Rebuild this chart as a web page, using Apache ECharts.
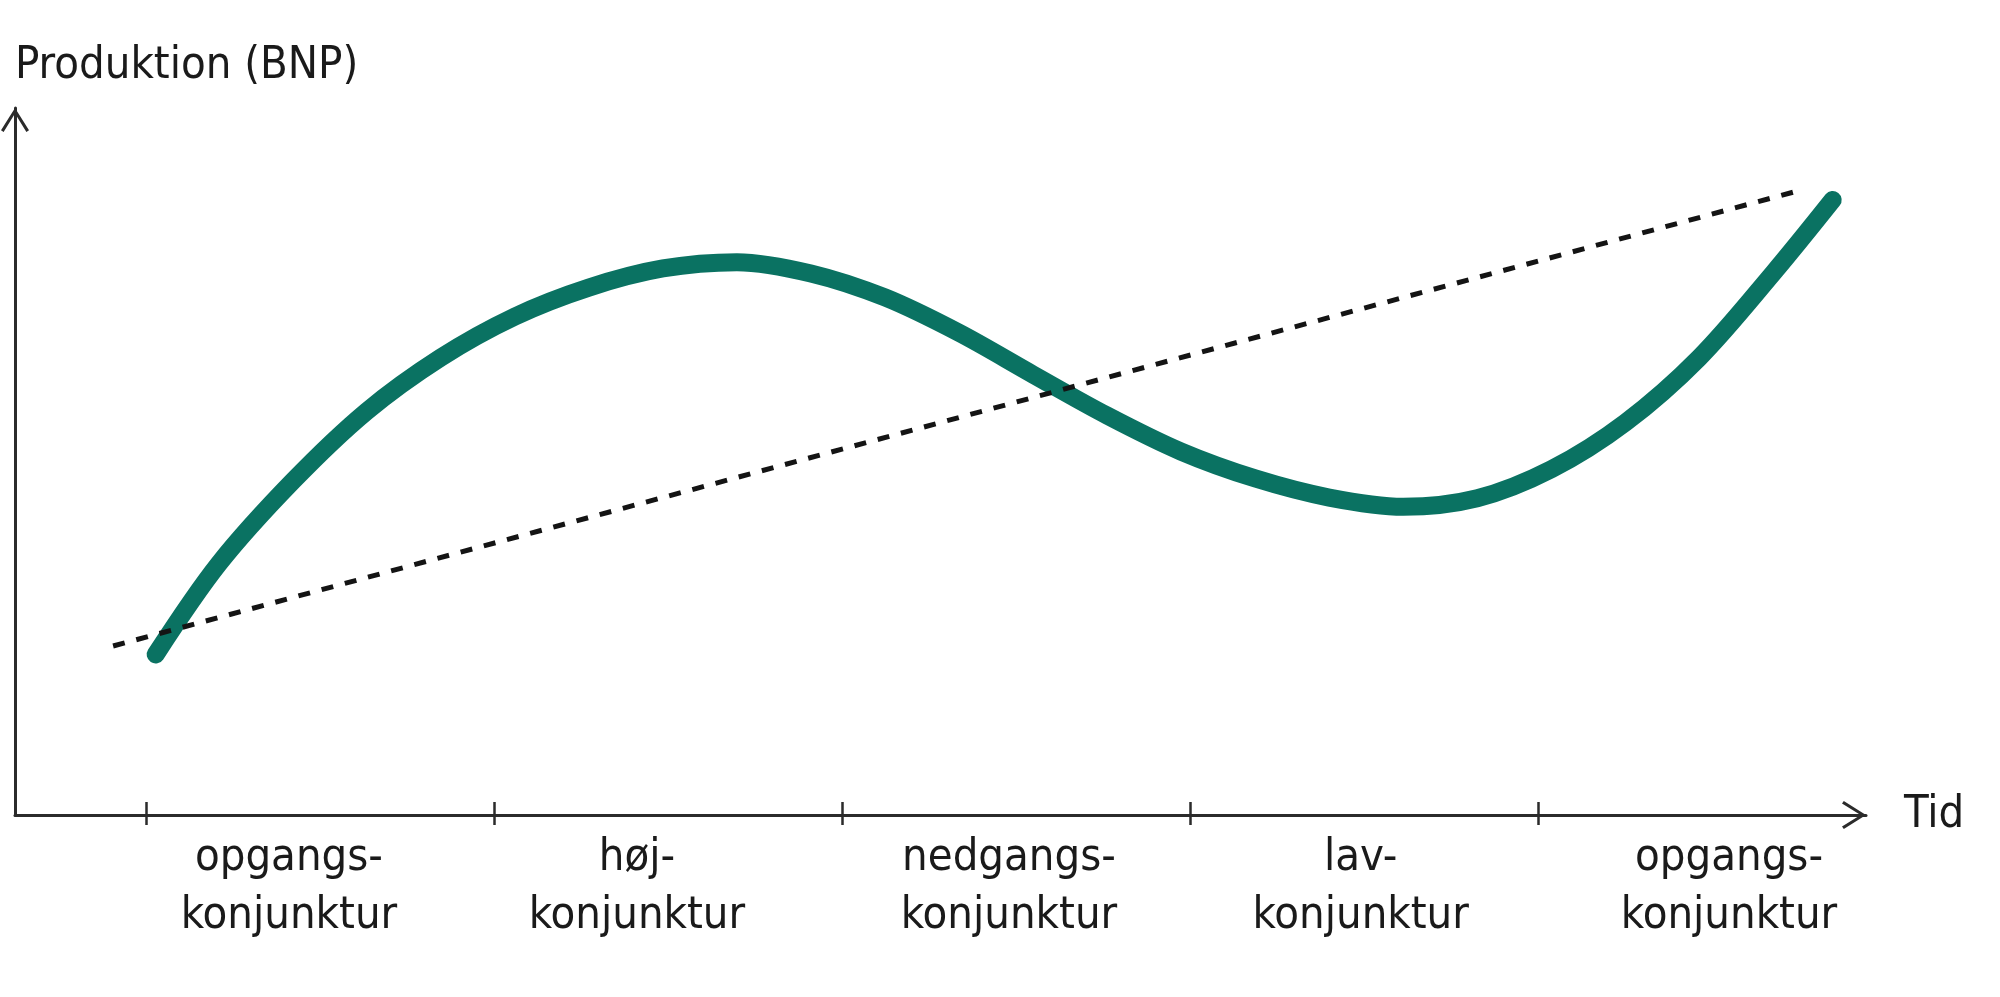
<!DOCTYPE html>
<html>
<head>
<meta charset="utf-8">
<title>Konjunkturcyklus</title>
<script src="https://cdn.jsdelivr.net/npm/echarts@6/dist/echarts.min.js"></script>
<style>
  html, body { margin: 0; padding: 0; background: #fff; }
  #chart { width: 2000px; height: 997px; }
</style>
</head>
<body>
<div id="chart"></div>
<script>
// both axes run 0..100 from the origin to the arrow tip
const cycleX = [7.6, 11, 15, 19, 23, 27, 31, 35, 39, 43, 47, 51, 55, 59, 63, 67, 71, 75, 79, 83, 87, 91, 95, 98.2];
const cycleY = [22.7, 35.5, 47.2, 57.1, 64.7, 70.5, 74.6, 77.3, 78.2, 76.6, 73.2, 68.2, 62.3, 56.5, 51.4, 47.6, 44.9, 43.6, 44.8, 48.9, 55.5, 64.7, 76.7, 87.0];
const trendX = [5.3, 96.5];
const trendY = [23.9, 88.4];
const phaseTicks = [7.1, 25.9, 44.7, 63.5, 82.3];
const phaseLabelPos = [14.8, 33.6, 53.7, 72.7, 92.6];
const phaseLabels = ['opgangs-\nkonjunktur', 'høj-\nkonjunktur', 'nedgangs-\nkonjunktur', 'lav-\nkonjunktur', 'opgangs-\nkonjunktur'];

const FONT = '"Liberation Sans Narrow", "DejaVu Sans Condensed", "Open Sans", sans-serif';
const AXIS_COLOR = '#2b2b2b';
const TEXT_COLOR = '#1a1a1a';
// open chevron, pointing up (echarts rotates it along the axis)
const CHEVRON = 'path://M14 0 L28 22.2 L25.4 24 L14 5.4 L2.6 24 L0 22.2 Z';

const chart = echarts.init(document.getElementById('chart'));

const axisLine = {
  show: true,
  symbol: ['none', CHEVRON],
  symbolSize: [28, 24],
  symbolOffset: [0, -12],
  lineStyle: { color: AXIS_COLOR, width: 3 },
};

chart.setOption({
  animation: false,
  backgroundColor: '#fff',
  grid: { left: 15, right: 134, top: 108, bottom: 182, containLabel: false },
  xAxis: [
    {
      type: 'value',
      min: 0,
      max: 100,
      position: 'bottom',
      axisLine,
      axisTick: {
        show: true,
        customValues: phaseTicks,
        length: 10,
        lineStyle: { color: AXIS_COLOR, width: 2.5 },
      },
      axisLabel: {
        show: true,
        customValues: phaseLabelPos,
        formatter: (value) => phaseLabels[phaseLabelPos.indexOf(value)] || '',
        margin: 14,
        fontFamily: FONT,
        fontSize: 45,
        lineHeight: 58,
        color: TEXT_COLOR,
        align: 'center',
      },
      splitLine: { show: false },
      name: 'Tid',
      nameLocation: 'end',
      nameGap: 38,
      nameTextStyle: {
        fontFamily: FONT,
        fontSize: 45,
        color: TEXT_COLOR,
        align: 'left',
        verticalAlign: 'middle',
      },
    },
    {
      // second axis only to draw the tick half above the line
      type: 'value',
      min: 0,
      max: 100,
      position: 'bottom',
      axisLine: { show: false },
      axisTick: {
        show: true,
        inside: true,
        customValues: phaseTicks,
        length: 13,
        lineStyle: { color: AXIS_COLOR, width: 2.5 },
      },
      axisLabel: { show: false },
      splitLine: { show: false },
    },
  ],
  yAxis: {
    type: 'value',
    min: 0,
    max: 100,
    axisLine,
    axisTick: { show: false },
    axisLabel: { show: false },
    splitLine: { show: false },
    name: 'Produktion (BNP)',
    nameLocation: 'end',
    nameGap: 19,
    nameTextStyle: {
      fontFamily: FONT,
      fontSize: 45,
      color: TEXT_COLOR,
      align: 'left',
    },
  },
  series: [
    {
      name: 'Produktion',
      type: 'line',
      xAxisIndex: 0,
      smooth: 0.33,
      showSymbol: false,
      symbol: 'none',
      data: cycleX.map((x, i) => [x, cycleY[i]]),
      lineStyle: { color: '#0a7262', width: 18, cap: 'round', join: 'round' },
    },
    {
      name: 'Trend',
      type: 'line',
      xAxisIndex: 0,
      showSymbol: false,
      symbol: 'none',
      data: trendX.map((x, i) => [x, trendY[i]]),
      lineStyle: { color: '#141414', width: 5, type: [12, 12], cap: 'butt' },
    },
  ],
});
</script>
</body>
</html>
